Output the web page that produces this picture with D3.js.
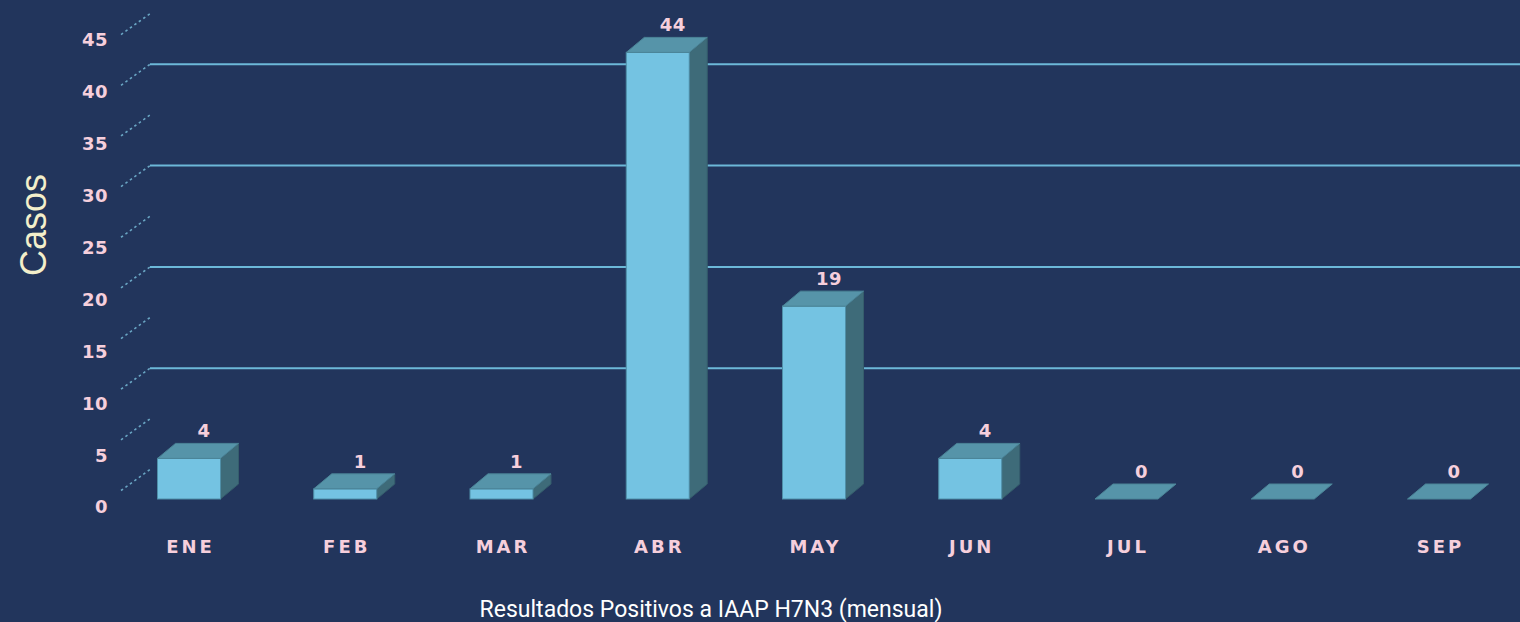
<!DOCTYPE html>
<html><head><meta charset="utf-8">
<script src="https://cdn.jsdelivr.net/npm/d3@7"></script>
<style>html,body{margin:0;padding:0;background:#22355c;}svg{display:block;}</style>
</head><body>
<script>
const months = ["ENE","FEB","MAR","ABR","MAY","JUN","JUL","AGO","SEP"];
const casos = [4,1,1,44,19,4,0,0,0];
const yTicks = [0,5,10,15,20,25,30,35,40,45];
const gridTicks = [10,20,30,40];
const yTitle = "Casos";
const xTitle = "Resultados Positivos a IAAP H7N3 (mensual)";

const W = 1520, H = 622;
const svg = d3.select("body").append("svg").attr("width", W).attr("height", H);
svg.append("rect").attr("width", W).attr("height", H).attr("fill", "#22355c");

const x = d3.scalePoint().domain(months).range([189, 1439]);
const yFront = d3.scaleLinear().domain([0, 45]).range([499, 499 - 45*10.15]);
const yWall = d3.scaleLinear().domain([0, 45]).range([469.5, 469.5 - 45*10.13]);
const yLab = d3.scaleLinear().domain([0, 45]).range([507, 507 - 45*10.38]);

const labelFont = "DejaVu Sans, Verdana, sans-serif";
const wallX = 150, dashDX = 29, dashDY = 21;
// dashed ticks
svg.append("g").selectAll("line").data(yTicks).join("line")
  .attr("x1", wallX - dashDX).attr("y1", d => yWall(d) + dashDY)
  .attr("x2", wallX).attr("y2", d => yWall(d))
  .attr("stroke", "#6aa6c4").attr("stroke-width", 1.6).attr("stroke-dasharray", "2.5,3");
// grid lines
svg.append("g").selectAll("line").data(gridTicks).join("line")
  .attr("x1", wallX).attr("x2", W)
  .attr("y1", d => yWall(d)).attr("y2", d => yWall(d))
  .attr("stroke", "#6cb8d8").attr("stroke-width", 2);
// tick labels
svg.append("g").selectAll("text").data(yTicks).join("text")
  .attr("x", 108).attr("y", d => yLab(d)).attr("dy", "0.36em")
  .attr("text-anchor", "end")
  .attr("font-family", labelFont).attr("font-weight", "bold")
  .attr("font-size", 18).attr("letter-spacing", 0.5)
  .attr("fill", "#f6cfdc").text(d => d);

// bars
const bw = 63, dx = 18, dy = -15;
const g = svg.append("g");
const data = months.map((m, i) => ({m, v: casos[i]}));
data.forEach(d => {
  const x0 = x(d.m) - bw/2, x1 = x0 + bw;
  const yb = yFront(0), yt = yFront(d.v);
  if (d.v > 0) {
    g.append("path").attr("d", `M${x1},${yt}L${x1+dx},${yt+dy}L${x1+dx},${yb+dy}L${x1},${yb}Z`)
      .attr("fill", "#3e6b79").attr("stroke", "#355d6c").attr("stroke-width", 1);
    g.append("rect").attr("x", x0).attr("y", yt).attr("width", bw).attr("height", yb - yt)
      .attr("fill", "#74c3e2").attr("stroke", "#4f8fa8").attr("stroke-width", 1);
  }
  g.append("path").attr("d", `M${x0},${yt}L${x0+dx},${yt+dy}L${x1+dx},${yt+dy}L${x1},${yt}Z`)
    .attr("fill", "#5694a9").attr("stroke", "#4b8497").attr("stroke-width", 1);
});
// value labels
svg.append("g").selectAll("text").data(data).join("text")
  .attr("x", d => x(d.m) + 15).attr("y", d => yFront(d.v) + dy - 6)
  .attr("text-anchor", "middle")
  .attr("font-family", labelFont).attr("font-weight", "bold")
  .attr("font-size", 18).attr("letter-spacing", 0.5)
  .attr("fill", "#f6cfdc").text(d => d.v);
// category labels
svg.append("g").selectAll("text").data(months).join("text")
  .attr("x", d => x(d) + 1.5).attr("y", 547).attr("dy", "0.36em")
  .attr("text-anchor", "middle")
  .attr("font-family", labelFont).attr("font-weight", "bold")
  .attr("font-size", 18).attr("letter-spacing", 3)
  .attr("fill", "#f6cfdc").text(d => d);
// axis titles
svg.append("text").attr("transform", "translate(46,225) rotate(-90)")
  .attr("text-anchor", "middle")
  .attr("font-family", "Liberation Sans, Arial, sans-serif").attr("font-size", 36)
  .attr("fill", "#f3efcb").text(yTitle);
svg.append("text").attr("x", 711).attr("y", 617)
  .attr("text-anchor", "middle")
  .attr("font-family", "Roboto, sans-serif").attr("font-size", 23)
  .attr("fill", "#ffffff").text(xTitle);
</script>
</body></html>
